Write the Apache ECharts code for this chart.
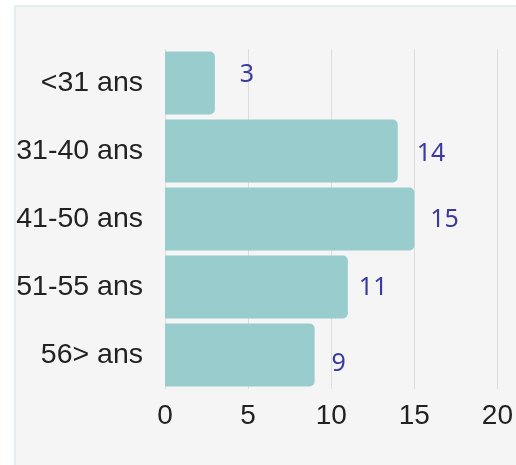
<!DOCTYPE html>
<html>
<head>
<meta charset="utf-8">
<script src="https://cdn.jsdelivr.net/npm/echarts@6/dist/echarts.min.js"></script>
<style>
  * { margin: 0; padding: 0; }
  body { width: 516px; height: 465px; background: #fff; overflow: hidden; position: relative; }
  .panel { position: absolute; left: 14px; top: 5px; width: 600px; height: 500px; background: #f5f5f5; border: 2px solid #e4eeee; box-sizing: border-box; }
  #chart { position: absolute; left: 0; top: 0; width: 516px; height: 465px; }
</style>
</head>
<body>
<div class="panel"></div>
<div id="chart"></div>
<script>
// tranches d'age et effectifs
var categories = ["<31 ans", "31-40 ans", "41-50 ans", "51-55 ans", "56> ans"];
var values = [3, 14, 15, 11, 9];
var xTicks = [0, 5, 10, 15, 20];
// decalage des etiquettes, comme sur l'original
var labelOffsets = [[25, -8], [19, 3], [16, 1], [11, 1], [17, 9]];

var chart = echarts.init(document.getElementById("chart"));

var option = {
  backgroundColor: "transparent",
  animation: false,
  grid: {
    left: 165,
    top: 49,
    right: 15,
    bottom: 76,
  },
  xAxis: {
    type: "value",
    min: xTicks[0],
    max: xTicks[xTicks.length - 1],
    interval: 5,
    axisLine: { show: false },
    axisTick: { show: false },
    axisLabel: {
      margin: 13,
      color: "#222",
      fontSize: 28,
      fontFamily: "Liberation Sans",
    },
    splitLine: { show: true, lineStyle: { color: "#dcdcdc", width: 1 } },
  },
  yAxis: {
    type: "category",
    inverse: true,
    data: categories,
    axisLine: { show: false },
    axisTick: { show: false },
    axisLabel: {
      margin: 22,
      color: "#222",
      fontSize: 28.5,
      fontFamily: "Liberation Sans",
    },
  },
  series: [
    {
      type: "bar",
      barCategoryGap: "7.4%",
      data: values.map(function (v, i) {
        return {
          value: v,
          label: { offset: labelOffsets[i] },
        };
      }),
      itemStyle: {
        color: "#99cccc",
        borderRadius: [0, 5, 5, 0],
      },
      label: {
        show: true,
        position: "right",
        distance: 0,
        color: "#3c3a9c",
        fontSize: 25,
        fontFamily: "Noto Sans",
      },
    },
  ],
};
chart.setOption(option);
</script>
</body>
</html>
